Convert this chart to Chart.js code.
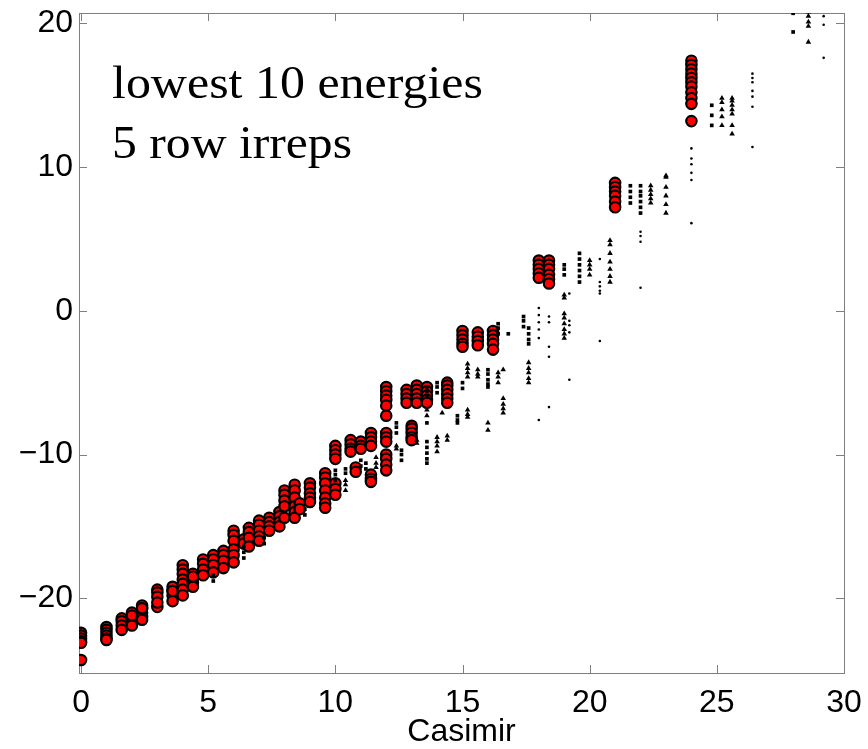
<!DOCTYPE html>
<html>
<head>
<meta charset="utf-8">
<script src="https://cdn.jsdelivr.net/npm/chart.js@4.4.1/dist/chart.umd.min.js"></script>
<style>
  html, body { margin: 0; padding: 0; background: #fff; }
  #wrap { width: 868px; height: 749px; }
</style>
</head>
<body>
<div id="wrap"><canvas id="casimirChart" width="868" height="749"></canvas></div>
<script>
// lowest energies (red circles), grouped by Casimir value
const lowestCasimir = [0, 1, 1.6, 2, 2.4, 3, 3.6, 4, 4.4, 4.8, 5.2, 5.6, 6, 6.4, 6.6, 7, 7.4, 7.8, 8, 8.4, 8.6, 9, 9.6, 10, 10.6, 10.8, 11, 11.4, 12, 12.8, 13, 13.2, 13.6, 14.4, 15, 15.6, 16.2, 18, 18.4, 21, 24];
const lowestEnergies = [
    [-22.4, -22.6, -22.8, -23.0, -23.1, -24.3],
    [-22.0, -22.2, -22.4, -22.6, -22.8, -22.9],
    [-21.4, -21.6, -21.9, -22.2],
    [-21.0, -21.5, -21.9, -21.2],
    [-20.5, -20.7, -21.0, -21.3, -21.5, -20.7],
    [-19.4, -19.6, -19.9, -20.6, -20.3],
    [-19.2, -19.5, -19.8, -20.2, -19.5],
    [-17.7, -18.0, -18.3, -18.7, -19.0, -19.4, -19.8],
    [-18.3, -18.6, -18.9, -19.2, -18.5],
    [-17.3, -17.6, -18.0, -18.4],
    [-17.0, -17.3, -17.7, -18.2],
    [-16.7, -17.0, -17.4, -17.9],
    [-15.3, -15.6, -16.0, -16.6, -17.0, -17.5],
    [-15.9, -16.2],
    [-15.1, -15.4, -15.8, -16.4],
    [-14.6, -14.9, -15.3, -15.7, -16.0],
    [-14.4, -14.7, -15.0, -15.3],
    [-14.0, -14.3, -14.7, -15.0],
    [-12.5, -12.8, -13.2, -13.6, -14.4],
    [-12.1, -12.5, -13.0, -13.6, -14.0, -14.4],
    [-13.4, -13.8],
    [-12.0, -12.3, -12.7, -13.0, -13.3],
    [-11.3, -11.6, -12.0, -12.5, -13.0, -13.4, -13.7],
    [-9.4, -9.7, -10.0, -10.3, -12.0, -12.4, -12.8],
    [-9.0, -9.3, -9.6, -9.8],
    [-10.9, -11.2],
    [-9.1, -9.4, -9.6],
    [-8.5, -8.8, -9.1, -9.4, -11.4, -11.7, -11.9],
    [-5.3, -5.6, -5.9, -6.2, -6.6, -7.3, -8.5, -8.8, -9.1, -10.0, -10.3, -10.7, -11.1],
    [-5.5, -5.8, -6.1, -6.4],
    [-8.0, -8.2, -8.5, -8.8, -9.0],
    [-5.2, -5.5, -5.8, -6.1, -6.4],
    [-5.3, -5.6, -5.9, -6.2, -6.4],
    [-5.0, -5.2, -5.5, -5.8, -6.1, -6.4],
    [-1.4, -1.7, -2.0, -2.3, -2.5],
    [-1.5, -1.8, -2.1, -2.4],
    [-1.4, -1.7, -2.0, -2.3, -2.7],
    [3.5, 3.2, 2.9, 2.6, 2.3],
    [3.5, 3.2, 2.9, 2.5, 2.2, 1.9],
    [8.9, 8.6, 8.3, 8.0, 7.6, 7.2],
    [17.4, 17.1, 16.8, 16.5, 16.2, 15.9, 15.6, 15.2, 14.8, 14.4, 13.2],
];

// other irreps: squares, triangles, dots
const squareCasimir = [5.2, 6.4, 7.2, 8.8, 10, 10.4, 11, 11.2, 12.4, 12.6, 13.6, 14, 14.8, 15, 16, 16.4, 16.8, 17.4, 17.6, 19, 19.6, 21.6, 22, 24.8, 28];
const squareEnergies = [
    [-18.4, -18.8],
    [-16.4, -16.8, -17.2],
    [-15.8, -16.2],
    [-13.8, -14.2],
    [-11.1, -11.4, -11.8],
    [-11.0, -11.3],
    [-10.4, -10.8],
    [-10.6, -11.0],
    [-7.8, -8.1, -8.5],
    [-9.7, -10.0, -10.4],
    [-5.3, -5.6, -5.9, -7.8, -9.1, -9.5, -9.9, -10.3, -10.6],
    [-5.0, -5.3, -5.7],
    [-7.3, -7.6, -7.8],
    [-5.0, -5.4],
    [-4.1, -4.4, -4.8, -5.1, -5.3],
    [-0.9, -1.2, -1.6],
    [-1.6],
    [-0.4, -0.7, -1.1],
    [-1.2, -1.6, -2.0, -2.3],
    [3.2, 2.9, 2.5],
    [4.0, 3.6, 3.2, 2.8, 2.4, 2.0],
    [8.7, 8.3, 7.9, 7.5],
    [8.7, 8.3, 8.0, 7.6, 7.2, 6.8],
    [14.3, 13.6, 12.9],
    [20.7, 19.4],
];

const triCasimir = [10.4, 11.6, 12.4, 13.2, 13.6, 14, 14.2, 14.4, 15.2, 15.6, 16, 16.4, 16.6, 17.6, 19, 20, 20.8, 22.4, 23, 25.2, 25.6, 28.6];
const triEnergies = [
    [-11.8, -12.1, -12.5],
    [-10.2, -10.6, -10.9],
    [-9.4, -9.6],
    [-9.0, -9.2],
    [-6.9, -7.3],
    [-8.8, -9.1, -9.4, -9.8],
    [-7.1],
    [-8.7, -9.0],
    [-3.7, -4.0, -4.3, -4.6, -6.9, -7.2, -7.4],
    [-4.1, -4.4, -4.6],
    [-7.8, -8.3],
    [-4.3, -4.6, -5.0],
    [-4.1, -6.1, -6.5, -6.8, -7.1],
    [-3.6, -4.0, -4.3, -4.7, -5.0],
    [1.1, 0.9, -0.2, -0.5, -0.9, -1.3, -1.6, -1.9],
    [3.5, 3.2, 2.9, 2.5],
    [4.9, 4.6, 4.0, 3.4, 2.9, 2.4, 2.0],
    [8.7, 8.4, 8.1, 7.8, 7.5],
    [9.4, 9.3, 8.6, 8.0, 7.4, 6.8],
    [14.8, 14.5, 14.0, 13.5, 12.9],
    [14.8, 14.6, 14.3, 14.0, 13.7, 12.9, 12.3],
    [20.8, 20.5, 20.1, 19.8, 18.7],
];

const dotCasimir = [18, 18.4, 19.2, 20.4, 22, 24, 26.4, 29.2];
const dotEnergies = [
    [0.2, -0.3, -0.8, -1.3, -1.9, -7.6],
    [-0.4, -0.8, -2.5, -3.2, -6.7],
    [1.2, -0.7, -1.0, -1.5, -4.8],
    [3.6, 2.0, 1.7, 1.4, 1.2, -2.1],
    [5.5, 5.2, 4.8, 1.6],
    [11.3, 10.6, 10.2, 9.6, 9.1, 6.1],
    [16.5, 16.2, 15.9, 15.3, 14.9, 14.2, 11.4],
    [20.5, 19.9, 17.6],
];

const xTicks = [0, 5, 10, 15, 20, 25, 30];
const yTicks = [-20, -10, 0, 10, 20];

function toPoints(xs, ys) {
    const pts = [];
    xs.forEach((x, i) => ys[i].forEach((y) => pts.push({ x: x, y: y })));
    return pts;
}

const axisGray = "#7f7f7f";
const tickFont = { family: "'Liberation Sans', Arial, sans-serif", size: 32 };

// box round the plot area, drawn under the markers, inward ticks on all four sides
const boxPlugin = {
    id: "matlabBox",
    beforeDatasetsDraw(chart) {
        const { ctx, chartArea: a, scales } = chart;
        ctx.save();
        ctx.strokeStyle = axisGray;
        ctx.lineWidth = 1;
        ctx.strokeRect(a.left + 0.5, a.top + 0.5, a.right - a.left, a.bottom - a.top);
        ctx.beginPath();
        const tl = 8;
        xTicks.forEach((v) => {
            const px = Math.round(scales.x.getPixelForValue(v)) + 0.5;
            ctx.moveTo(px, a.bottom);
            ctx.lineTo(px, a.bottom - tl);
            ctx.moveTo(px, a.top);
            ctx.lineTo(px, a.top + tl);
        });
        yTicks.forEach((v) => {
            const py = Math.round(scales.y.getPixelForValue(v)) + 0.5;
            ctx.moveTo(a.left, py);
            ctx.lineTo(a.left + tl, py);
            ctx.moveTo(a.right, py);
            ctx.lineTo(a.right - tl, py);
        });
        ctx.stroke();
        ctx.restore();
    },
    afterDraw(chart) {
        const ctx = chart.ctx;
        ctx.save();
        ctx.fillStyle = "#000";
        ctx.font = "46px 'Liberation Serif', 'Times New Roman', serif";
        ctx.textBaseline = "alphabetic";
        const lines = [["lowest 10 energies", 112, 98, 371], ["5 row irreps", 112, 158, 240]];
        lines.forEach(([txt, x, y, w]) => {
            const sx = w / ctx.measureText(txt).width;
            ctx.save();
            ctx.translate(x, y);
            ctx.scale(sx, 1);
            ctx.fillText(txt, 0, 0);
            ctx.restore();
        });
        ctx.restore();
    },
};

const ctx = document.getElementById("casimirChart").getContext("2d");
const casimirChart = new Chart(ctx, {
    type: "scatter",
    data: {
        datasets: [
            {
                label: "dots",
                data: toPoints(dotCasimir, dotEnergies),
                pointStyle: "circle",
                pointRadius: 1.3,
                backgroundColor: "#000",
                borderColor: "#000",
                borderWidth: 0,
            },
            {
                label: "triangles",
                data: toPoints(triCasimir, triEnergies),
                pointStyle: "triangle",
                pointRadius: 3.2,
                backgroundColor: "#000",
                borderColor: "#000",
                borderWidth: 0,
            },
            {
                label: "squares",
                data: toPoints(squareCasimir, squareEnergies),
                pointStyle: "rect",
                pointRadius: 2.6,
                backgroundColor: "#000",
                borderColor: "#000",
                borderWidth: 0,
            },
            {
                label: "lowest 10 energies",
                data: toPoints(lowestCasimir, lowestEnergies),
                pointStyle: "circle",
                pointRadius: 5.2,
                backgroundColor: "#ff0000",
                borderColor: "#000",
                borderWidth: 2.2,
            },
        ],
    },
    options: {
        responsive: false,
        animation: false,
        layout: {
            padding: { top: 13, right: 24, left: 0, bottom: 0 },
        },
        plugins: {
            legend: { display: false },
            tooltip: { enabled: false },
        },
        scales: {
            x: {
                type: "linear",
                min: -0.08,
                max: 30,
                afterBuildTicks: (scale) => {
                    scale.ticks = xTicks.map((v) => ({ value: v }));
                },
                afterFit: (scale) => {
                    scale.height = 76;
                    scale.paddingLeft = 0;
                    scale.paddingRight = 0;
                },
                grid: { display: false, drawTicks: false },
                border: { display: false },
                ticks: {
                    color: "#000",
                    font: tickFont,
                    padding: 11,
                    maxRotation: 0,
                },
                title: {
                    display: true,
                    text: "Casimir",
                    color: "#000",
                    font: tickFont,
                    padding: { top: 0, bottom: -2 },
                },
            },
            y: {
                type: "linear",
                min: -25.2,
                max: 20.72,
                afterBuildTicks: (scale) => {
                    scale.ticks = yTicks.map((v) => ({ value: v }));
                },
                afterFit: (scale) => {
                    scale.width = 79;
                    scale.paddingTop = 0;
                    scale.paddingBottom = 0;
                },
                grid: { display: false, drawTicks: false },
                border: { display: false },
                ticks: {
                    color: "#000",
                    font: tickFont,
                    padding: 6,
                    callback: (v) => (v < 0 ? "\u2212" + Math.abs(v) : String(v)),
                },
            },
        },
    },
    plugins: [boxPlugin],
});
</script>
</body>
</html>
